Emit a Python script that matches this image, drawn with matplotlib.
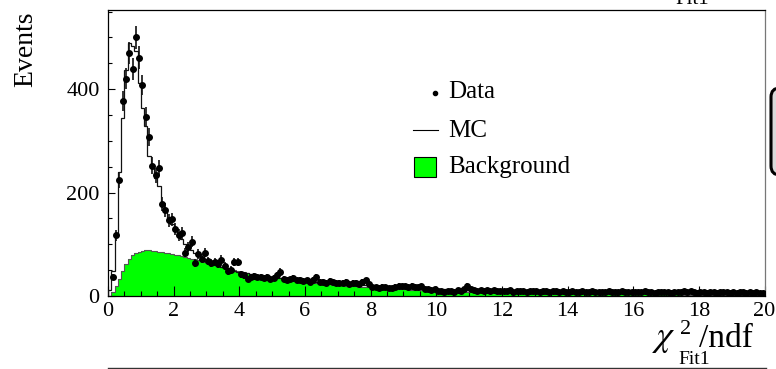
import numpy as np
import matplotlib
matplotlib.use("Agg")
import matplotlib.pyplot as plt
from matplotlib.patches import Rectangle, FancyBboxPatch
from matplotlib.lines import Line2D
from matplotlib.transforms import IdentityTransform

# ---------------- data (200 bins of width 0.1 from 0 to 20) ----------------
x_min, x_max, bin_width = 0.0, 20.0, 0.1

data_counts = [
    0, 36, 117, 224, 377, 420, 470, 439, 500, 461,
    408, 346, 308, 252, 233, 247, 178, 166, 146, 148,
    129, 118, 122, 84, 95, 105, 64, 81, 72, 84,
    68, 64, 66, 62, 70, 58, 48, 50, 66, 66,
    42, 40, 32, 36, 38, 36, 37, 35, 36, 32,
    34, 40, 47, 33, 31, 32, 34, 30, 31, 29,
    30, 28, 31, 36, 27, 28, 26, 29, 27, 25,
    26, 25, 27, 24, 26, 25, 23, 27, 30, 24,
    18, 17, 16, 18, 17, 16, 15, 18, 20, 19,
    19, 18, 20, 18, 17, 19, 14, 13, 12, 13,
    9, 10, 8, 9, 10, 8, 11, 9, 14, 20,
    13, 12, 10, 11, 9, 12, 10, 11, 9, 10,
    10, 9, 11, 8, 10, 9, 10, 8, 9, 10,
    9, 8, 10, 9, 8, 9, 10, 8, 9, 8,
    8, 9, 7, 8, 10, 8, 7, 9, 8, 7,
    8, 7, 9, 8, 7, 8, 9, 7, 8, 7,
    7, 8, 7, 9, 7, 8, 6, 7, 8, 7,
    7, 6, 8, 7, 7, 9, 8, 10, 7, 6,
    8, 7, 6, 7, 8, 6, 7, 8, 7, 6,
    7, 6, 7, 8, 6, 7, 6, 7, 6, 5,
]

mc_counts = [
    12, 49, 118, 240, 344, 437, 490, 483, 473, 411,
    363, 328, 270, 250, 228, 212, 179, 165, 150, 140,
    127, 118, 110, 101, 95, 89, 84, 79, 75, 71,
    68, 65, 62, 60, 57, 55, 53, 51, 49, 47,
    46, 45, 44, 43, 42, 41, 40, 39, 38, 37,
    36, 35, 35, 34, 33, 33, 32, 32, 31, 30,
    30, 29, 29, 28, 28, 27, 27, 26, 26, 25,
    25, 24, 24, 24, 23, 23, 22, 22, 21, 21,
    20, 20, 19, 19, 19, 18, 18, 18, 17, 17,
    17, 16, 16, 16, 15, 15, 15, 14, 14, 14,
    13, 13, 13, 13, 12, 12, 12, 12, 11, 11,
    11, 11, 11, 10, 10, 10, 10, 10, 10, 9,
    9, 9, 9, 9, 9, 9, 9, 8, 8, 8,
    8, 8, 8, 8, 8, 8, 8, 8, 7, 7,
    7, 7, 7, 7, 7, 7, 7, 7, 7, 7,
    7, 7, 7, 7, 7, 7, 7, 7, 7, 7,
    7, 7, 7, 7, 7, 7, 7, 7, 7, 7,
    7, 7, 7, 7, 7, 7, 7, 7, 7, 7,
    7, 7, 7, 7, 7, 6, 6, 6, 6, 6,
    6, 6, 6, 6, 6, 6, 6, 6, 6, 6,
]

bkg_counts = [
    0, 8, 20, 33, 48, 62, 72, 79, 84, 86,
    87, 88, 88, 87, 87, 86, 85, 84, 83, 81,
    80, 79, 77, 76, 74, 72, 71, 69, 67, 65,
    64, 62, 60, 58, 57, 55, 53, 52, 50, 48,
    47, 46, 44, 43, 42, 40, 39, 38, 37, 36,
    35, 34, 34, 33, 32, 31, 31, 30, 29, 28,
    27, 27, 26, 25, 25, 24, 23, 23, 22, 22,
    21, 21, 20, 20, 19, 19, 18, 18, 17, 17,
    16, 16, 16, 15, 15, 14, 14, 14, 13, 13,
    13, 12, 12, 12, 11, 11, 11, 11, 10, 10,
    10, 9, 9, 9, 9, 8, 8, 8, 8, 8,
    7, 7, 7, 7, 7, 6, 6, 6, 6, 6,
    6, 6, 5, 5, 5, 5, 5, 5, 5, 5,
    5, 4, 4, 4, 4, 4, 4, 4, 4, 4,
    4, 4, 4, 3, 3, 3, 3, 3, 3, 3,
    3, 3, 3, 3, 3, 3, 3, 3, 3, 3,
    3, 3, 3, 3, 3, 3, 3, 3, 3, 3,
    3, 3, 3, 3, 3, 2, 2, 2, 2, 2,
    2, 2, 2, 2, 2, 2, 2, 2, 2, 2,
    2, 2, 2, 2, 2, 2, 2, 2, 2, 2,
]

x_ticks = [0, 2, 4, 6, 8, 10, 12, 14, 16, 18, 20]
y_ticks = [0, 200, 400]
y_max = 553

legend_labels = ["Data", "MC", "Background"]
y_title = "Events"

# ---------------- figure ----------------
W, H = 776, 369
plt.rcParams["font.family"] = ["Liberation Serif", "DejaVu Serif"]
plt.rcParams["mathtext.fontset"] = "stix"
fig = plt.figure(figsize=(W / 100, H / 100), dpi=100)


def fx(px):
    return px / W


def fy(py):
    return 1 - py / H


ax = fig.add_axes([fx(108), fy(296), (764.5 - 108) / W, (296 - 10) / H])

n_bins = len(data_counts)
edges = x_min + bin_width * np.arange(n_bins + 1)
centers = edges[:-1] + bin_width / 2
data = np.array(data_counts, dtype=float)
mc = np.array(mc_counts, dtype=float)
bkg = np.array(bkg_counts, dtype=float)

green = "#00ff00"
ax.stairs(bkg, edges, fill=True, color=green, zorder=1)
ax.stairs(bkg, edges, color="#555555", lw=0.8, zorder=2)
ax.stairs(mc, edges, color="#111111", lw=0.9, zorder=3)

m = data > 0
ax.errorbar(centers[m], data[m], yerr=np.sqrt(data[m]), xerr=bin_width / 2,
            fmt="o", ms=4, color="black", ecolor="#111111",
            elinewidth=1.2, capsize=0, zorder=4)

ax.set_xlim(x_min, x_max)
ax.set_ylim(0, y_max)
ax.set_xticks(x_ticks)
ax.set_xticks(np.arange(x_min, x_max + 0.01, 0.5), minor=True)
ax.set_yticks(y_ticks)
ax.set_yticks(np.arange(0, y_max, 50), minor=True)
ax.tick_params(axis="x", which="major", direction="in", length=7, width=0.8,
               pad=4, labelsize=16, top=False)
ax.tick_params(axis="x", which="minor", direction="in", length=3.6, width=0.8,
               top=False)
ax.tick_params(axis="y", which="major", direction="in", length=5, width=0.8,
               pad=6, labelsize=16, right=False)
ax.tick_params(axis="y", which="minor", direction="in", length=3, width=0.8,
               right=False)
for s in ["left", "top", "bottom"]:
    ax.spines[s].set_color("black")
    ax.spines[s].set_linewidth(0.9)
ax.spines["right"].set_color("#777777")
ax.spines["right"].set_linewidth(0.9)

# y title
fig.text(fx(26), fy(49), y_title, rotation=90, ha="center", va="center",
         fontsize=20)

# x title pieces: chi^2 / ndf with subscript Fit1
fig.text(fx(652), fy(346), r"$\chi$", ha="left", va="baseline", fontsize=26)
fig.text(fx(680), fy(334), "2", ha="left", va="baseline", fontsize=16)
fig.text(fx(699), fy(347), "/ndf", ha="left", va="baseline", fontsize=24)
fig.text(fx(678), fy(364), "Fit1", ha="left", va="baseline", fontsize=14)
# cut-off subscript of the panel above
fig.text(fx(675), fy(4), "Fit1", ha="left", va="baseline", fontsize=15)

# legend (manual, no frame)
fig.add_artist(Line2D([fx(435)], [fy(93)], marker="o", ms=3, color="black",
                      transform=fig.transFigure))
fig.text(fx(448), fy(98), legend_labels[0], ha="left", va="baseline", fontsize=18)
fig.add_artist(Line2D([fx(413), fx(438)], [fy(130), fy(130)], lw=0.8,
                      color="black", transform=fig.transFigure))
fig.text(fx(448), fy(137), legend_labels[1], ha="left", va="baseline", fontsize=18)
fig.add_artist(Rectangle((fx(414), fy(177)), 22 / W, 20 / H, fc=green,
                         ec="black", lw=0.8, transform=fig.transFigure))
fig.text(fx(448), fy(173), legend_labels[2], ha="left", va="baseline", fontsize=18)

# partially visible stats box at the right edge
fig.add_artist(FancyBboxPatch((771, H - 175), 60, 87,
                              boxstyle="round,pad=0,rounding_size=9",
                              transform=IdentityTransform(), fc="#dadada",
                              ec="black", lw=2.2))

# top edge of the panel below
fig.add_artist(Line2D([fx(108), fx(766)], [fy(367.5), fy(367.5)], lw=1,
                      color="#333333", transform=fig.transFigure))

fig.savefig("out.png", dpi=100)
